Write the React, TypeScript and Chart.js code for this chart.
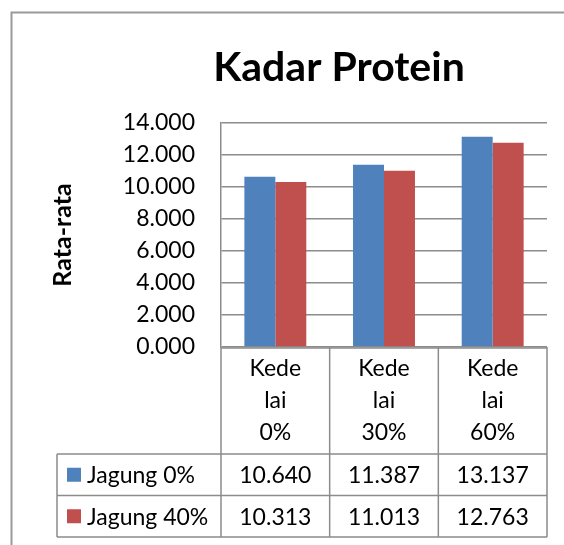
import React, { useEffect, useRef } from "react";
import { Chart, registerables } from "chart.js";

Chart.register(...registerables);

const chartTitle = "Kadar Protein";
const yAxisTitle = "Rata-rata";
const categories: string[][] = [
  ["Kede", "lai", "0%"],
  ["Kede", "lai", "30%"],
  ["Kede", "lai", "60%"],
];
const seriesNames = ["Jagung 0%", "Jagung 40%"];
const jagung0 = [10.64, 11.387, 13.137];
const jagung40 = [10.313, 11.013, 12.763];
const seriesColors = ["#4F81BD", "#C0504D"];
const yMin = 0;
const yMax = 14;
const yStep = 2;

const FONT = "Lato, 'Open Sans', sans-serif";
const GRID = "#8c8c8c";

const tablePlugin = {
  id: "excelTable",
  afterDraw(chart: any) {
    const { ctx, chartArea } = chart;
    const { left, right, bottom } = chartArea;
    const colW = (right - left) / categories.length;
    const headerBottom = bottom + 107;
    const rowH = 41.5;
    const legendLeft = 57;
    const tableBottom = headerBottom + rowH * seriesNames.length;

    ctx.save();
    // outer chart border
    ctx.strokeStyle = "#9a9a9a";
    ctx.lineWidth = 2;
    ctx.beginPath();
    ctx.moveTo(11.5, 545);
    ctx.lineTo(11.5, 12.5);
    ctx.lineTo(564, 12.5);
    ctx.stroke();

    // title
    ctx.fillStyle = "#000";
    ctx.font = `bold 41px ${FONT}`;
    ctx.textAlign = "center";
    ctx.textBaseline = "alphabetic";
    ctx.fillText(chartTitle, 339, 81);

    // table lines
    ctx.strokeStyle = GRID;
    ctx.lineWidth = 1.5;
    ctx.beginPath();
    ctx.moveTo(left, bottom + 1);
    ctx.lineTo(right, bottom + 1);
    for (let i = 0; i <= categories.length; i++) {
      const x = left + colW * i;
      ctx.moveTo(x, bottom);
      ctx.lineTo(x, tableBottom);
    }
    for (let r = 0; r <= seriesNames.length; r++) {
      const y = headerBottom + rowH * r;
      ctx.moveTo(legendLeft, y);
      ctx.lineTo(right, y);
    }
    ctx.moveTo(legendLeft, headerBottom);
    ctx.lineTo(legendLeft, tableBottom);
    ctx.stroke();

    // header text
    ctx.font = `23px ${FONT}`;
    ctx.textAlign = "center";
    ctx.textBaseline = "alphabetic";
    categories.forEach((lines, i) => {
      const cx = left + colW * (i + 0.5);
      lines.forEach((ln, j) => {
        ctx.fillText(ln, cx, bottom + 29 + j * 32);
      });
    });

    // rows
    const series = [jagung0, jagung40];
    series.forEach((vals, r) => {
      const cy = headerBottom + rowH * (r + 0.5);
      ctx.textBaseline = "middle";
      ctx.textAlign = "center";
      ctx.fillStyle = "#000";
      vals.forEach((v, i) => {
        ctx.fillText(v.toFixed(3), left + colW * (i + 0.5), cy + 1);
      });
      ctx.fillStyle = seriesColors[r];
      ctx.fillRect(67, cy - 7, 14, 14);
      ctx.fillStyle = "#000";
      ctx.textAlign = "left";
      ctx.fillText(seriesNames[r], 87, cy + 1);
    });
    ctx.restore();
  },
};

export default function App() {
  const ref = useRef<HTMLCanvasElement | null>(null);
  useEffect(() => {
    if (!ref.current) return;
    const chart = new Chart(ref.current, {
      type: "bar",
      data: {
        labels: categories.map((c) => c.join(" ")),
        datasets: [
          {
            label: seriesNames[0],
            data: jagung0,
            backgroundColor: seriesColors[0],
            categoryPercentage: 0.57,
            barPercentage: 1,
          },
          {
            label: seriesNames[1],
            data: jagung40,
            backgroundColor: seriesColors[1],
            categoryPercentage: 0.57,
            barPercentage: 1,
          },
        ],
      },
      options: {
        responsive: false,
        animation: false,
        devicePixelRatio: 1,
        layout: { padding: { left: 0, top: 123, right: 17, bottom: 198 } },
        plugins: {
          legend: { display: false },
          tooltip: { enabled: false },
          title: { display: false },
        },
        scales: {
          x: { display: false },
          y: {
            min: yMin,
            max: yMax,
            ticks: {
              stepSize: yStep,
              padding: 26,
              color: "#000",
              font: { family: FONT, size: 23 },
              callback: (v: any) => Number(v).toFixed(3),
            },
            grid: { color: GRID, lineWidth: 1.5, drawTicks: false },
            border: { display: true, color: GRID, width: 1.5 },
            title: {
              display: true,
              text: yAxisTitle,
              color: "#000",
              font: { family: FONT, size: 25, weight: "bold" },
              padding: { top: 48, bottom: 0 },
            },
            afterFit: (scale: any) => {
              scale.width = 221;
            },
          },
        },
      },
      plugins: [tablePlugin],
    });
    return () => chart.destroy();
  }, []);
  return (
    <canvas
      ref={ref}
      width={564}
      height={545}
      style={{ position: "absolute", left: 0, top: 0, display: "block" }}
    />
  );
}
